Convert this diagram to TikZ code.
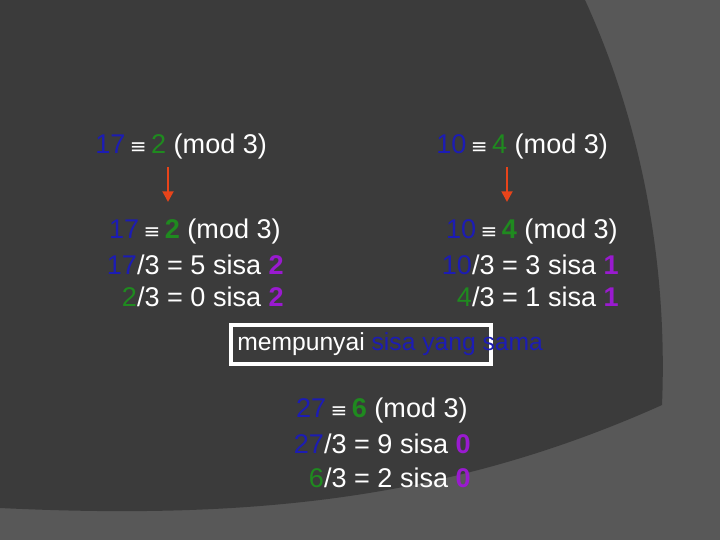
\documentclass[tikz,border=0pt]{standalone}
\usetikzlibrary{arrows.meta}
\usepackage{fontspec}
\setmainfont{Liberation Sans}
\newfontfamily\symf{DejaVu Sans}
\definecolor{bgdark}{HTML}{3B3B3B}
\definecolor{bglight}{HTML}{585858}
\definecolor{nblue}{HTML}{1C1CB4}
\definecolor{ngreen}{HTML}{1F8A1F}
\definecolor{npurp}{HTML}{9A1AD0}
\definecolor{nred}{HTML}{E8441A}
\newcommand{\B}[1]{\textcolor{nblue}{#1}}
\newcommand{\G}[1]{\textcolor{ngreen}{#1}}
\newcommand{\GB}[1]{\textcolor{ngreen}{\bfseries #1}}
\newcommand{\PB}[1]{\textcolor{npurp}{\bfseries #1}}
\newcommand{\eqv}{\,{\symf\fontsize{15}{15}\selectfont ≡}\,}
\begin{document}
\begin{tikzpicture}[x=0.75pt,y=-0.75pt,
  txt/.style={text=white,font=\fontsize{20.3}{24}\selectfont,inner sep=0pt},
  arr/.style={draw=nred,line width=2.2pt,-{Triangle[length=8pt,width=8pt]}}]
\useasboundingbox (0,0) rectangle (720,540);
\fill[bglight] (0,0) rectangle (720,540);
\fill[bgdark] (0,0) -- (585,0) .. controls (640,120) and (668,260) .. (662,405)
  .. controls (450,500) and (250,520) .. (0,508) -- cycle;
\node[txt,anchor=west] (a1) at (95,146) {\B{17}\eqv\G{2} (mod 3)};
\node[txt,anchor=west] (b1) at (436,146) {\B{10}\eqv\G{4} (mod 3)};
\coordinate (a2) at (168,202);
\coordinate (b2) at (507,202);
\draw[arr] (168,167) -- (a2);
\draw[arr] (507,167) -- (b2);
\node[txt,anchor=east] (a3) at (281,231) {\B{17}\eqv\GB{2} (mod 3)};
\node[txt,anchor=east] (a4) at (284,265) {\B{17}/3 = 5 sisa \PB{2}};
\node[txt,anchor=east] (a5) at (284,297) {\G{2}/3 = 0 sisa \PB{2}};
\node[txt,anchor=east] (b3) at (618,231) {\B{10}\eqv\GB{4} (mod 3)};
\node[txt,anchor=east] (b4) at (619,265) {\B{10}/3 = 3 sisa \PB{1}};
\node[txt,anchor=east] (b5) at (619,297) {\G{4}/3 = 1 sisa \PB{1}};
\draw[white,line width=3pt] (231,325) rectangle (491,364);
\node[txt,anchor=west,font=\fontsize{18.5}{20}\selectfont] (m) at (237,344) {mempunyai \B{sisa yang sama}};
\node[txt,anchor=east] (c1) at (468,410) {\B{27}\eqv\GB{6} (mod 3)};
\node[txt,anchor=east] (c2) at (471,444) {\B{27}/3 = 9 sisa \PB{0}};
\node[txt,anchor=east] (c3) at (471,478) {\G{6}/3 = 2 sisa \PB{0}};
\end{tikzpicture}
\end{document}
